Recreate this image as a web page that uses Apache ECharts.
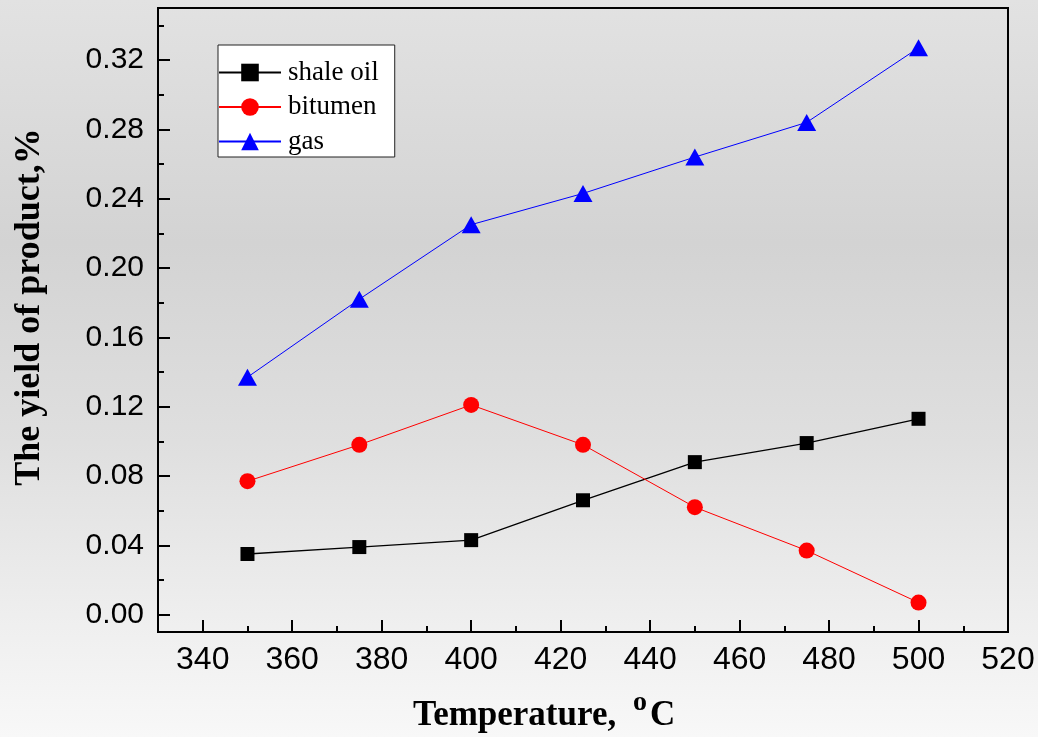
<!DOCTYPE html>
<html>
<head>
<meta charset="utf-8">
<script src="https://cdn.jsdelivr.net/npm/echarts@6/dist/echarts.min.js"></script>
<style>
html,body{margin:0;padding:0;width:1038px;height:737px;overflow:hidden;}
#c{width:1038px;height:737px;}
</style>
</head>
<body>
<div id="c"></div>
<script>
const temps = [350, 375, 400, 425, 450, 475, 500];
const shaleOil = [0.035, 0.039, 0.043, 0.066, 0.088, 0.099, 0.113];
const bitumen = [0.077, 0.098, 0.121, 0.098, 0.062, 0.037, 0.007];
const gas = [0.137, 0.182, 0.225, 0.243, 0.264, 0.284, 0.327];
const seriesNames = ['shale oil', 'bitumen', 'gas'];
const xTicks = [340, 360, 380, 400, 420, 440, 460, 480, 500, 520];
const xMinorTicks = [350, 370, 390, 410, 430, 450, 470, 490, 510];
const yTicks = [0, 0.04, 0.08, 0.12, 0.16, 0.20, 0.24, 0.28, 0.32];
const yMinorTicks = [0.02, 0.06, 0.10, 0.14, 0.18, 0.22, 0.26, 0.30, 0.34];
const xTitle = 'Temperature,';
const yTitle = 'The yield of product,%';

const pairs = arr => temps.map((t, i) => [t, arr[i]]);

const chart = echarts.init(document.getElementById('c'), null, {renderer: 'canvas'});
const serif = 'Liberation Serif, Times New Roman, serif';
const sans = 'Liberation Sans, Arial, sans-serif';

chart.setOption({
  animation: false,
  backgroundColor: {
    type: 'linear', x: 0, y: 0, x2: 0, y2: 1,
    colorStops: [
      {offset: 0, color: '#e2e2e2'},
      {offset: 0.33, color: '#d3d3d3'},
      {offset: 0.6, color: '#dfdfdf'},
      {offset: 0.85, color: '#efefef'},
      {offset: 1, color: '#f8f8f8'}
    ]
  },
  grid: {
    left: 158, right: 30, top: 8, bottom: 105,
    show: true, borderColor: '#000', borderWidth: 2, backgroundColor: 'transparent'
  },
  legend: {
    orient: 'vertical',
    left: 218, top: 45,
    data: seriesNames,
    backgroundColor: '#ffffff',
    borderColor: '#222',
    borderWidth: 1,
    borderRadius: 0,
    padding: [14, 16, 2, 0],
    itemWidth: 62,
    itemHeight: 22,
    itemGap: 7.5,
    textStyle: {fontFamily: serif, fontSize: 27, color: '#000', padding: [0, 0, 0, 2]}
  },
  xAxis: [{
    type: 'value', min: 330, max: 520, position: 'bottom',
    splitLine: {show: false},
    axisLine: {show: true, onZero: false, lineStyle: {color: '#000', width: 2}},
    axisTick: {show: true, inside: true, length: 12, customValues: xTicks, lineStyle: {color: '#000', width: 2}},
    axisLabel: {customValues: xTicks, margin: 12, fontFamily: sans, fontSize: 32, color: '#000'}
  }, {
    type: 'value', min: 330, max: 520, position: 'bottom',
    splitLine: {show: false},
    axisLine: {show: false, onZero: false},
    axisTick: {show: true, inside: true, length: 6, customValues: xMinorTicks, lineStyle: {color: '#000', width: 2}},
    axisLabel: {show: false}
  }],
  yAxis: [{
    type: 'value', min: -0.01, max: 0.35, position: 'left',
    splitLine: {show: false},
    axisLine: {show: true, onZero: false, lineStyle: {color: '#000', width: 2}},
    axisTick: {show: true, inside: true, length: 12, customValues: yTicks, lineStyle: {color: '#000', width: 2}},
    axisLabel: {customValues: yTicks, margin: 14, fontFamily: sans, fontSize: 30, color: '#000',
      formatter: v => v.toFixed(2)}
  }, {
    type: 'value', min: -0.01, max: 0.35, position: 'left',
    splitLine: {show: false},
    axisLine: {show: false, onZero: false},
    axisTick: {show: true, inside: true, length: 6, customValues: yMinorTicks, lineStyle: {color: '#000', width: 2}},
    axisLabel: {show: false}
  }],
  graphic: [
    {type: 'text', x: 30, y: 307, rotation: Math.PI / 2,
      style: {text: yTitle, font: 'bold 36px ' + serif, fill: '#000', align: 'center', verticalAlign: 'middle'}},
    {type: 'text', x: 413, y: 716,
      style: {text: xTitle, font: 'bold 35px ' + serif, fill: '#000', align: 'left', verticalAlign: 'middle'}},
    {type: 'text', x: 633, y: 703,
      style: {text: 'o', font: 'bold 28px ' + serif, fill: '#000', align: 'left', verticalAlign: 'middle'}},
    {type: 'text', x: 650, y: 716,
      style: {text: 'C', font: 'bold 35px ' + serif, fill: '#000', align: 'left', verticalAlign: 'middle'}}
  ],
  series: [{
    name: seriesNames[0], type: 'line', data: pairs(shaleOil),
    symbol: 'rect', symbolSize: 14,
    itemStyle: {color: '#000'}, lineStyle: {color: '#000', width: 1.3}
  }, {
    name: seriesNames[1], type: 'line', data: pairs(bitumen),
    symbol: 'circle', symbolSize: 16,
    itemStyle: {color: '#ff0000'}, lineStyle: {color: '#ff0000', width: 1}
  }, {
    name: seriesNames[2], type: 'line', data: pairs(gas),
    symbol: 'triangle', symbolSize: [19, 17],
    itemStyle: {color: '#0000ff'}, lineStyle: {color: '#0000ff', width: 1}
  }]
});
</script>
</body>
</html>
